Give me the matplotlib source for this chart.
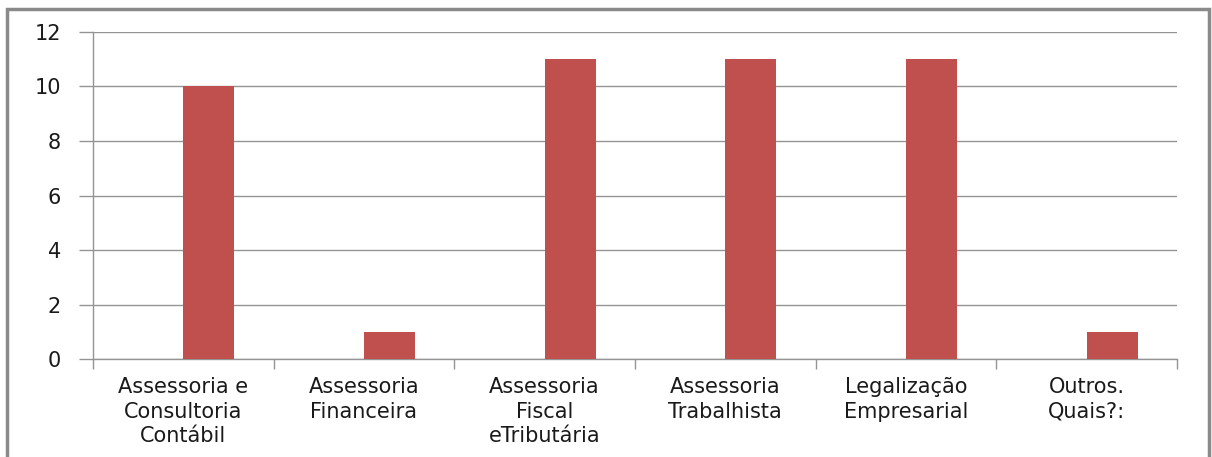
import numpy as np
import matplotlib
matplotlib.use('Agg')
import matplotlib.pyplot as plt
from matplotlib.patches import Rectangle

categorias = ['Assessoria e\nConsultoria\nContábil', 'Assessoria\nFinanceira',
              'Assessoria\nFiscal\neTributária', 'Assessoria\nTrabalhista',
              'Legalização\nEmpresarial', 'Outros.\nQuais?:']
valores = [10, 1, 11, 11, 11, 1]

plt.rcParams['font.family'] = ['DejaVu Sans']

fig = plt.figure(figsize=(12.12, 4.57), dpi=100)
ax = fig.add_axes([0.0767, 0.2144, 0.8944, 0.7156])

grid_cor = '#949494'
texto_cor = '#1a1a1a'
x = np.arange(len(valores))
ax.bar(x, valores, width=0.283, align='edge', color='#C0504D', zorder=3)

ax.set_xlim(-0.5, len(valores) - 0.5)
ax.set_ylim(0, 12)
ax.set_yticks(range(0, 13, 2))
ax.yaxis.grid(True, color=grid_cor, linewidth=1.0, zorder=0)

# ticks nas fronteiras das categorias, rótulos no centro
ax.set_xticks(np.arange(-0.5, len(valores), 1.0))
ax.set_xticklabels([])
ax.set_xticks(x, minor=True)
ax.set_xticklabels(categorias, minor=True, fontsize=15, linespacing=1.28,
                   color=texto_cor)
ax.tick_params(axis='x', which='minor', length=0, pad=13)
ax.tick_params(axis='x', which='major', length=7, width=1.0, color=grid_cor,
               direction='out')
ax.tick_params(axis='y', length=10, width=1.0, color=grid_cor, pad=13,
               labelsize=15, labelcolor=texto_cor)

for lado in ['top', 'right']:
    ax.spines[lado].set_visible(False)
for lado in ['left', 'bottom']:
    ax.spines[lado].set_color(grid_cor)
    ax.spines[lado].set_linewidth(1.0)

# moldura externa do gráfico
fig.patches.append(Rectangle((7 / 1212, -0.1), 1202 / 1212, 1.1 - 9 / 457,
                             transform=fig.transFigure, fill=False,
                             edgecolor='#8a8a8a', linewidth=2.5))

fig.savefig('out.png', dpi=100)
